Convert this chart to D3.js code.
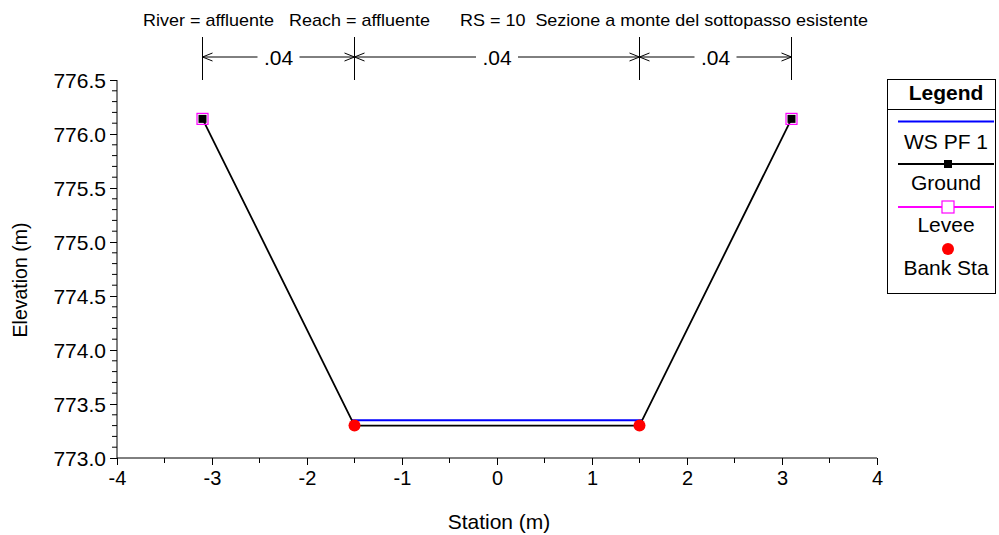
<!DOCTYPE html>
<html>
<head>
<meta charset="utf-8">
<script src="https://cdn.jsdelivr.net/npm/d3@7"></script>
<style>
  body { margin: 0; background: #fff; }
  svg { font-family: 'Liberation Sans', Arial, sans-serif; }
</style>
</head>
<body>
<svg id="chart" width="999" height="535"></svg>
<script>
// data
const groundStation = [-3.1, -1.5, 1.5, 3.1]
const groundElev = [776.14, 773.3, 773.3, 776.14]
const levees = [[-3.1, 776.14], [3.1, 776.14]]
const bankStations = [[-1.5, 773.3], [1.5, 773.3]]
const wsElev = 773.35
const manningBreaks = [-3.1, -1.5, 1.5, 3.1]
const manningN = ['.04', '.04', '.04']
const xTicks = [-4, -3, -2, -1, 0, 1, 2, 3, 4]
const yTicks = [773.0, 773.5, 774.0, 774.5, 775.0, 775.5, 776.0, 776.5]
const legendItems = ['WS PF 1', 'Ground', 'Levee', 'Bank Sta']
const title = 'River = affluente   Reach = affluente      RS = 10  Sezione a monte del sottopasso esistente'

const svg = d3.select('#chart')
const margin = { top: 80, right: 122, bottom: 77, left: 117 }
const W = 999, H = 535

const x = d3.scaleLinear().domain([-4, 4]).range([margin.left, W - margin.right])
const y = d3.scaleLinear().domain([773, 776.5]).range([H - margin.bottom, margin.top])

// title
svg.append('text')
    .attr('x', 143).attr('y', 26)
    .attr('xml:space', 'preserve')
    .attr('textLength', 725)
    .attr('lengthAdjust', 'spacingAndGlyphs')
    .style('white-space', 'pre')
    .style('font-size', '17px')
    .text(title)

// manning n dimension lines
const dimY = 57
manningBreaks.forEach(s => {
    svg.append('line')
        .attr('x1', x(s)).attr('x2', x(s))
        .attr('y1', 37).attr('y2', 80)
        .style('stroke', '#000').style('stroke-width', 1)
})
const arrow = (x0, dir) => {
    // small open arrowhead pointing in dir (+1 right, -1 left)
    svg.append('path')
        .attr('d', `M${x0 - dir * 10},${dimY - 4}L${x0},${dimY}L${x0 - dir * 10},${dimY + 4}`)
        .style('fill', 'none').style('stroke', '#000')
}
manningN.forEach((n, i) => {
    const a = x(manningBreaks[i]), b = x(manningBreaks[i + 1]), m = (a + b) / 2
    const half = 21
    svg.append('line').attr('x1', a).attr('x2', m - half).attr('y1', dimY).attr('y2', dimY).style('stroke', '#000')
    svg.append('line').attr('x1', m + half).attr('x2', b).attr('y1', dimY).attr('y2', dimY).style('stroke', '#000')
    arrow(a, -1)
    arrow(b, 1)
    svg.append('text')
        .attr('x', m).attr('y', dimY + 8)
        .attr('text-anchor', 'middle')
        .style('font-size', '21px')
        .text(n)
})

// axes
const xAxis = d3.axisBottom(x).tickValues(xTicks).tickFormat(d => String(d)).tickSize(7).tickSizeOuter(0)
const yAxis = d3.axisLeft(y).tickValues(yTicks).tickFormat(d => d.toFixed(1)).tickSize(7).tickSizeOuter(0)

const gx = svg.append('g')
    .attr('transform', `translate(0,${y(773)})`)
    .call(xAxis)
gx.selectAll('text').style('font-size', '20px').attr('dy', 0).attr('y', 27)
gx.select('.domain').attr('d', `M${x(-4)},0H${x(4)}`)

const gy = svg.append('g')
    .attr('transform', `translate(${x(-4)},0)`)
    .call(yAxis)
gy.selectAll('text').style('font-size', '21px').attr('x', -11).attr('dy', '0.36em')
gy.select('.domain').attr('d', `M0,${y(773)}V${y(776.5)}`)

// minor ticks
const xMinor = d3.range(-3.5, 4, 1)
svg.append('g').selectAll('line').data(xMinor).enter().append('line')
    .attr('x1', d => x(d)).attr('x2', d => x(d))
    .attr('y1', y(773)).attr('y2', y(773) + 5)
    .style('stroke', '#000')
const yMinor = d3.range(0, 35).map(i => 773 + i * 0.1).filter((d, i) => i % 5 !== 0)
svg.append('g').selectAll('line').data(yMinor).enter().append('line')
    .attr('x1', x(-4) - 5).attr('x2', x(-4))
    .attr('y1', d => y(d)).attr('y2', d => y(d))
    .style('stroke', '#000')

svg.selectAll('.tick line').style('stroke', '#000')
svg.selectAll('.domain').style('stroke', '#000')

// axis titles
svg.append('text')
    .attr('x', 499).attr('y', 529)
    .attr('text-anchor', 'middle')
    .style('font-size', '21px')
    .text('Station (m)')
svg.append('text')
    .attr('transform', `translate(27,280) rotate(-90)`)
    .attr('text-anchor', 'middle')
    .style('font-size', '19.5px')
    .text('Elevation (m)')

// water surface: where ground slopes cross the WS elevation
const crossing = (i0, i1) => {
    const s0 = groundStation[i0], s1 = groundStation[i1]
    const e0 = groundElev[i0], e1 = groundElev[i1]
    return s0 + (wsElev - e0) * (s1 - s0) / (e1 - e0)
}
const wsLeft = crossing(0, 1), wsRight = crossing(2, 3)
svg.append('line')
    .attr('x1', x(wsLeft)).attr('x2', x(wsRight))
    .attr('y1', y(wsElev)).attr('y2', y(wsElev))
    .style('stroke', '#0000ff').style('stroke-width', 2)

// ground
const ground = groundStation.map((s, i) => [s, groundElev[i]])
svg.append('path')
    .datum(ground)
    .attr('d', d3.line().x(d => x(d[0])).y(d => y(d[1])))
    .style('fill', 'none').style('stroke', '#000').style('stroke-width', 1.8)

// levees (open magenta squares) and ground end markers
svg.selectAll('rect.levee').data(levees).enter().append('rect')
    .attr('class', 'levee')
    .attr('x', d => x(d[0]) - 5.5).attr('y', d => y(d[1]) - 5.5)
    .attr('width', 11).attr('height', 11)
    .style('fill', 'none').style('stroke', '#ff00ff').style('stroke-width', 1.2)
svg.selectAll('rect.gmark').data(levees).enter().append('rect')
    .attr('class', 'gmark')
    .attr('x', d => x(d[0]) - 4).attr('y', d => y(d[1]) - 4)
    .attr('width', 8).attr('height', 8)
    .style('fill', '#000')

// bank stations
svg.selectAll('circle.bank').data(bankStations).enter().append('circle')
    .attr('class', 'bank')
    .attr('cx', d => x(d[0])).attr('cy', d => y(d[1]))
    .attr('r', 6)
    .style('fill', '#ff0000')

// legend
const lg = svg.append('g')
lg.append('rect')
    .attr('x', 887.5).attr('y', 79.5).attr('width', 108).attr('height', 214)
    .style('fill', '#fff').style('stroke', '#000')
lg.append('text')
    .attr('x', 946).attr('y', 100)
    .attr('text-anchor', 'middle')
    .style('font-size', '21px').style('font-weight', 'bold')
    .text('Legend')
lg.append('line').attr('x1', 887.5).attr('x2', 995.5).attr('y1', 109.5).attr('y2', 109.5).style('stroke', '#000')

const lx1 = 898, lx2 = 994, lmid = 948
const rowY = [121.5, 164, 207, 249]
const textY = [149, 190, 232, 275]
const rowColor = ['#0000ff', '#000', '#ff00ff', null]
legendItems.forEach((name, i) => {
    const ly = rowY[i]
    if (rowColor[i]) {
        lg.append('line')
            .attr('x1', lx1).attr('x2', lx2).attr('y1', ly).attr('y2', ly)
            .style('stroke', rowColor[i]).style('stroke-width', 2)
    }
    if (name === 'Ground') {
        lg.append('rect').attr('x', lmid - 4).attr('y', ly - 4).attr('width', 8).attr('height', 8).style('fill', '#000')
    }
    if (name === 'Levee') {
        lg.append('rect').attr('x', lmid - 6).attr('y', ly - 6).attr('width', 12).attr('height', 12)
            .style('fill', '#fff').style('stroke', '#ff00ff').style('stroke-width', 1.2)
    }
    if (name === 'Bank Sta') {
        lg.append('circle').attr('cx', lmid).attr('cy', ly).attr('r', 6).style('fill', '#ff0000')
    }
    lg.append('text')
        .attr('x', 946).attr('y', textY[i])
        .attr('text-anchor', 'middle')
        .style('font-size', '21px')
        .text(name)
})
</script>
</body>
</html>
